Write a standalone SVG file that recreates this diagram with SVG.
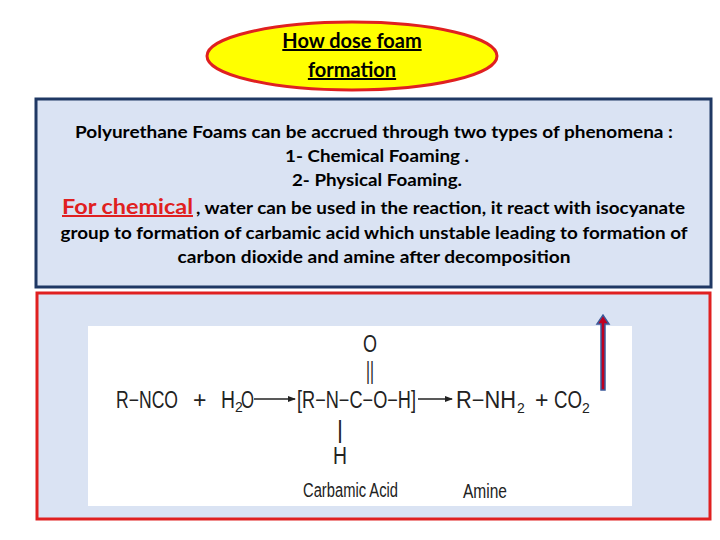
<svg xmlns="http://www.w3.org/2000/svg" width="720" height="540" viewBox="0 0 720 540">
<style>
.t{font-family:Lato,"Open Sans",sans-serif;font-weight:bold;font-size:17px;fill:#000;text-anchor:middle}
.c{font-family:"Liberation Sans",Arial,sans-serif;font-size:23px;fill:#222}
.s{font-family:"Liberation Sans",Arial,sans-serif;font-size:14px;fill:#222}
</style>
<defs>
<marker id="ah" markerWidth="8" markerHeight="8" refX="7" refY="4" orient="auto" markerUnits="userSpaceOnUse"><path d="M0,1 L8,4 L0,7 Z" fill="#222"/></marker>
</defs>
<rect width="720" height="540" fill="#fff"/>
<g id="title">
<ellipse cx="352" cy="56" rx="145" ry="34" fill="#ffff00" stroke="#e02020" stroke-width="3"/>
<text class="t" x="352" y="48" text-decoration="underline" style="font-size:20px">How dose foam</text>
<text class="t" x="352" y="77" style="font-size:20px" text-decoration="underline">formation</text>
</g>
<g id="textbox">
<rect x="36" y="99" width="675" height="188" fill="#dae3f3" stroke="#1f3864" stroke-width="3"/>
<text class="t" x="374" y="138" textLength="598" lengthAdjust="spacingAndGlyphs">Polyurethane Foams can be accrued through two types of  phenomena :</text>
<text class="t" x="377" y="162" textLength="184" lengthAdjust="spacingAndGlyphs">1- Chemical Foaming .</text>
<text class="t" x="377" y="186" textLength="170" lengthAdjust="spacingAndGlyphs">2- Physical Foaming.</text>
<text x="62" y="214" textLength="131" lengthAdjust="spacingAndGlyphs" text-decoration="underline" style="font-family:Lato,'Open Sans',sans-serif;font-size:20px;font-weight:bold;fill:#e02020">For chemical </text>
<text x="196" y="214" textLength="489" lengthAdjust="spacingAndGlyphs" style="font-family:Lato,'Open Sans',sans-serif;font-size:17px;font-weight:bold">, water can be used in the reaction, it react with isocyanate</text>
<text class="t" x="374" y="239" textLength="627" lengthAdjust="spacingAndGlyphs">group to formation of carbamic acid which unstable leading to formation of</text>
<text class="t" x="374" y="263" textLength="393" lengthAdjust="spacingAndGlyphs">carbon dioxide and amine  after decomposition</text>
</g>
<g id="reactionbox">
<rect x="37" y="293" width="673" height="226" fill="#dae3f3" stroke="#e02020" stroke-width="3"/>
<rect x="88" y="326" width="544" height="180" fill="#fff"/>
<text class="c" x="116" y="408" textLength="62" lengthAdjust="spacingAndGlyphs">R−NCO</text>
<text class="c" x="193" y="408">+</text>
<text class="c" x="221" y="408" textLength="14" lengthAdjust="spacingAndGlyphs">H</text>
<text class="s" x="235" y="412">2</text>
<text class="c" x="241" y="408" textLength="13" lengthAdjust="spacingAndGlyphs">O</text>
<text class="c" x="297" y="408" textLength="119" lengthAdjust="spacingAndGlyphs">[R−N−C−O−H]</text>
<text class="c" x="456" y="408" textLength="60" lengthAdjust="spacingAndGlyphs">R−NH</text>
<text class="s" x="517" y="413">2</text>
<text class="c" x="535" y="408">+</text>
<text class="c" x="554" y="408" textLength="28" lengthAdjust="spacingAndGlyphs">CO</text>
<text class="s" x="582" y="413">2</text>
<text class="c" x="363" y="352" textLength="14" lengthAdjust="spacingAndGlyphs">O</text>
<text class="c" x="366" y="379" textLength="8" lengthAdjust="spacingAndGlyphs">||</text>
<text class="c" x="337" y="438">|</text>
<text class="c" x="333" y="464" textLength="14" lengthAdjust="spacingAndGlyphs">H</text>
<text class="c" x="303" y="497" style="font-size:20px" textLength="95" lengthAdjust="spacingAndGlyphs">Carbamic Acid</text>
<text class="c" x="463" y="498" style="font-size:20px" textLength="44" lengthAdjust="spacingAndGlyphs">Amine</text>
</g>
<g id="connectors">
<line x1="254" y1="399" x2="295" y2="399" stroke="#222" stroke-width="1.5" marker-end="url(#ah)"/>
<line x1="418" y1="399" x2="452" y2="399" stroke="#222" stroke-width="1.5" marker-end="url(#ah)"/>
<path d="M601,390 L601,324 L597,324 L603,315 L609,324 L605,324 L605,390 Z" fill="#c00020" stroke="#3b5a9a" stroke-width="1.5"/>
</g>
</svg>
